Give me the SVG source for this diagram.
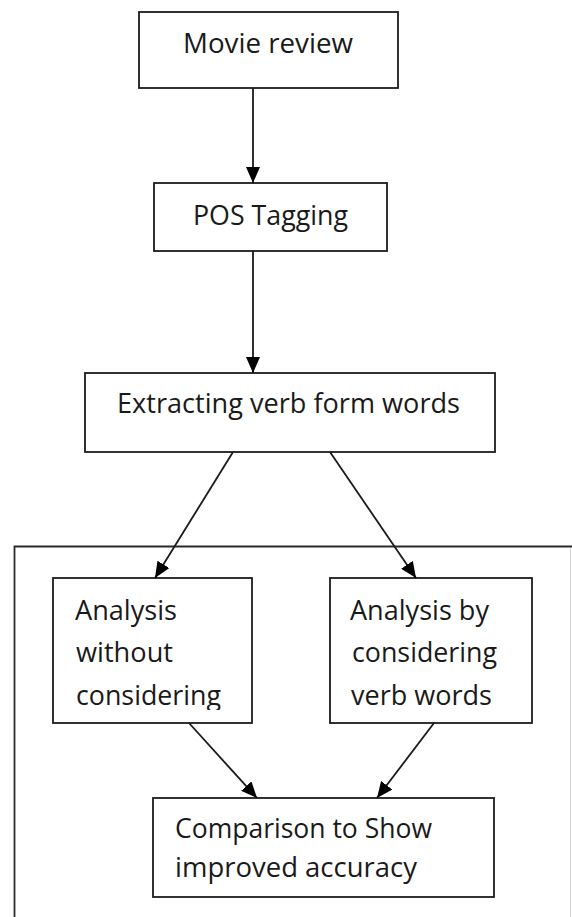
<svg xmlns="http://www.w3.org/2000/svg" width="572" height="917" viewBox="0 0 572 917">
  <style>
    .box { fill: #ffffff; stroke: #1c1c1c; stroke-width: 1.8; }
    .frame { fill: none; stroke: #2a2a2a; stroke-width: 1.8; }
    .lbl { font-family: "Open Sans", "Liberation Sans", sans-serif; font-size: 27px; fill: #1a1a1a; }
    .conn { stroke: #1a1a1a; stroke-width: 1.8; fill: none; marker-end: url(#arrow); }
  </style>
  <defs>
    <marker id="arrow" viewBox="0 0 16 14" refX="16" refY="7" markerWidth="16" markerHeight="14" markerUnits="userSpaceOnUse" orient="auto">
      <path d="M0,0 L16,7 L0,14 Z" fill="#000000"/>
    </marker>
    <clipPath id="clip-left">
      <rect x="53" y="578" width="199" height="132"/>
    </clipPath>
  </defs>

  <rect width="572" height="917" fill="#ffffff"/>

  <!-- enclosing frame around the analysis stage -->
  <g id="analysis-frame">
    <path class="frame" d="M14.5,917 V546.5 H572"/>
    <line x1="570.5" y1="548" x2="570.5" y2="917" stroke="#d4d4d4" stroke-width="1"/>
  </g>

  <g id="movie-review">
    <rect class="box" x="139" y="12" width="259" height="76"/>
    <text class="lbl" x="183" y="53" textLength="170" lengthAdjust="spacingAndGlyphs">Movie review</text>
  </g>

  <g id="pos-tagging">
    <rect class="box" x="154" y="183" width="233" height="68"/>
    <text class="lbl" x="193" y="225" textLength="155" lengthAdjust="spacingAndGlyphs">POS Tagging</text>
  </g>

  <g id="extract-verbs">
    <rect class="box" x="85" y="373" width="410" height="79"/>
    <text class="lbl" x="117" y="413" textLength="343" lengthAdjust="spacingAndGlyphs">Extracting verb form words</text>
  </g>

  <g id="analysis-without">
    <rect class="box" x="53" y="578" width="199" height="145"/>
    <g clip-path="url(#clip-left)">
      <text class="lbl" x="75" y="620" textLength="102" lengthAdjust="spacingAndGlyphs">Analysis</text>
      <text class="lbl" x="76" y="662" textLength="97" lengthAdjust="spacingAndGlyphs">without</text>
      <text class="lbl" x="76" y="705" textLength="145" lengthAdjust="spacingAndGlyphs">considering</text>
    </g>
  </g>

  <g id="analysis-verbs">
    <rect class="box" x="330" y="578" width="202" height="145"/>
    <text class="lbl" x="350" y="620" textLength="139" lengthAdjust="spacingAndGlyphs">Analysis by</text>
    <text class="lbl" x="352" y="662" textLength="145" lengthAdjust="spacingAndGlyphs">considering</text>
    <text class="lbl" x="351" y="705" textLength="141" lengthAdjust="spacingAndGlyphs">verb words</text>
  </g>

  <g id="comparison">
    <rect class="box" x="153" y="798" width="341" height="99"/>
    <text class="lbl" x="175" y="838" textLength="257" lengthAdjust="spacingAndGlyphs">Comparison to Show</text>
    <text class="lbl" x="175" y="877" textLength="242" lengthAdjust="spacingAndGlyphs">improved accuracy</text>
  </g>

  <g id="connectors">
    <line class="conn" x1="253" y1="88" x2="253" y2="183"/>
    <line class="conn" x1="253" y1="251" x2="253" y2="373"/>
    <line class="conn" x1="233" y1="452" x2="155" y2="578"/>
    <line class="conn" x1="330" y1="452" x2="416" y2="578"/>
    <line class="conn" x1="189" y1="723" x2="257" y2="798"/>
    <line class="conn" x1="434" y1="723" x2="377" y2="798"/>
  </g>
</svg>
